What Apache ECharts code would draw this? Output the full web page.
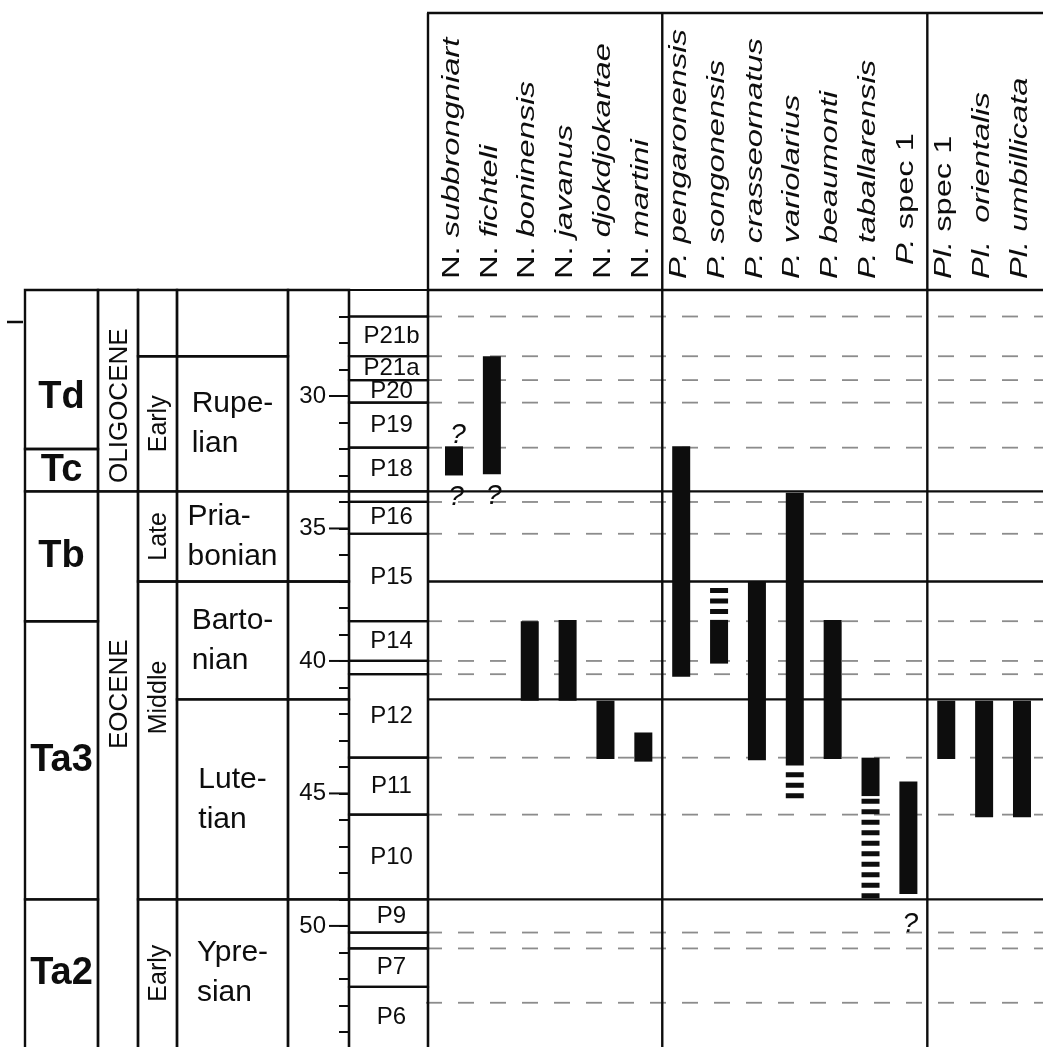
<!DOCTYPE html>
<html>
<head>
<meta charset="utf-8">
<script src="https://cdn.jsdelivr.net/npm/echarts@6/dist/echarts.min.js"></script>
<style>
html,body{margin:0;padding:0;background:#fff;}
#c{width:1043px;height:1047px;}
</style>
</head>
<body>
<div id="c"></div>
<script>
// ================= DATA =================
const AGE_MIN = 26, AGE_MAX = 54.57;        // Ma, top / bottom of the visible age scale
const ageTickLabels = [30, 35, 40, 45, 50];

// [label, fromAge, toAge]
const letterStages = [['Td', 26, 32.0], ['Tc', 32.0, 33.6], ['Tb', 33.6, 38.5], ['Ta3', 38.5, 49.0], ['Ta2', 49.0, 56]];
const epochs = [['OLIGOCENE', 26, 33.6], ['EOCENE', 33.6, 56]];
const subEpochs = [['', 26, 28.5], ['Early', 28.5, 33.6], ['Late', 33.6, 37.0], ['Middle', 37.0, 49.0], ['Early', 49.0, 56]];
const stages = [['', 26, 28.5], ['Rupe-\nlian', 28.5, 33.6], ['Pria-\nbonian', 33.6, 37.0], ['Barto-\nnian', 37.0, 41.45], ['Lute-\ntian', 41.45, 49.0], ['Ypre-\nsian', 49.0, 56]];
const ageColumnCells = [['', 26, 33.6], ['', 33.6, 37.0], ['', 37.0, 41.45], ['', 41.45, 49.0], ['', 49.0, 56]];
const zones = [['', 26, 27.0], ['P21b', 27.0, 28.5], ['P21a', 28.5, 29.4], ['P20', 29.4, 30.25], ['P19', 30.25, 31.95],
  ['P18', 31.95, 33.6], ['', 33.6, 34.0], ['P16', 34.0, 35.2], ['P15', 35.2, 38.5], ['P14', 38.5, 40.0], ['', 40.0, 40.5],
  ['P12', 40.5, 43.65], ['P11', 43.65, 45.8], ['P10', 45.8, 49.0], ['P9', 49.0, 50.25], ['', 50.25, 50.85],
  ['P7', 50.85, 52.3], ['P6', 52.3, 56]];
const guideLines = [27.0, 28.5, 29.4, 30.25, 31.95, 34.0, 35.2, 38.5, 40.0, 40.5, 43.65, 45.8, 50.25, 50.85, 52.9];
const boundaryLines = [33.6, 37.0, 41.45, 49.0];

const speciesNames = ['N. subbrongniart', 'N. fichteli', 'N. boninensis', 'N. javanus', 'N. djokdjokartae', 'N. martini',
  'P. pengaronensis', 'P. songonensis', 'P. crasseornatus', 'P. variolarius', 'P. beaumonti', 'P. taballarensis', 'P. spec 1',
  'Pl. spec 1', 'Pl.  orientalis', 'Pl. umbillicata'];
const speciesGroup = [0, 0, 0, 0, 0, 0, 1, 1, 1, 1, 1, 1, 1, 2, 2, 2];
const rangeSolid = [[31.9, 33.0], [28.5, 32.95], [38.5, 41.5], [38.45, 41.5], [41.5, 43.7], [42.7, 43.8],
  [31.9, 40.6], [38.45, 40.1], [37.0, 43.75], [33.65, 43.95], [38.45, 43.7], [43.65, 45.1], [44.55, 48.8],
  [41.5, 43.7], [41.5, 45.9], [41.5, 45.9]];
const rangeDashed = [null, null, null, null, null, null,
  null, [37.25, 38.25], null, [44.2, 45.2], null, [45.2, 49.0], null,
  null, null, null];
const queryAbove = ['N. subbrongniart'];
const queryBelow = ['N. subbrongniart', 'N. fichteli', 'P. spec 1'];

// ================= LAYOUT / STYLE =================
const L = {
  top: 290, bottom: 0,
  tableLeft: 25, zoneLeft: 349, speciesLeft: 428,
  colEdges: [0, 73, 113, 152, 263, 324],
  headerHeight: 277,
  speciesPad: [0.687, 0.555],
  barWidth: 18,
  labelGap: 11, labelDx: -2, labelStretch: 1.36, labelSize: 24
};
const labelShift = { 'Td': 28, 'OLIGOCENE': 15, 'EOCENE': -75, 'Middle': -43 };
const labelLift = { 'P. spec 1': 14 };
const queryGapBelow = { 'P. spec 1': 8 };
const uprightParts = ['N.', 'spec 1'];
const FONT = '"Liberation Sans", Arial, Helvetica, sans-serif';
const INK = '#0d0d0d';
const GUIDE = '#8c8c8c';

const measureCtx = document.createElement('canvas').getContext('2d');
function textWidth(t, size) { measureCtx.font = size + 'px ' + FONT; return measureCtx.measureText(t).width; }

const tableCells = [];
[letterStages, epochs, subEpochs, stages, ageColumnCells].forEach((arr, col) => arr.forEach(d => tableCells.push([col, d[1], d[2], d[0]])));

function renderTable(params, api) {
  const c = tableCells[params.dataIndex];
  const col = c[0];
  const a = api.coord([L.colEdges[col], c[1]]);
  const b = api.coord([L.colEdges[col + 1], c[2]]);
  const children = [{ type: 'rect', shape: { x: a[0], y: a[1], width: b[0] - a[0], height: b[1] - a[1] },
    style: { fill: 'none', stroke: INK, lineWidth: 2.4 } }];
  const label = c[3];
  if (label) {
    const cx = (a[0] + b[0]) / 2;
    const cy = (a[1] + Math.min(b[1], api.getHeight())) / 2 + (labelShift[label] || 0);
    if (col === 0) {
      children.push({ type: 'text', x: cx, y: cy, style: { text: label, fontSize: 38, fontWeight: 'bold', fontFamily: FONT, fill: INK, align: 'center', verticalAlign: 'middle' } });
    } else if (col === 1 || col === 2) {
      children.push({ type: 'text', x: cx + 2, y: cy, rotation: Math.PI / 2, style: { text: label, fontSize: col === 1 ? 26 : 25, fontFamily: FONT, fill: INK, align: 'center', verticalAlign: 'middle' } });
    } else if (col === 3) {
      const w = Math.max.apply(null, label.split('\n').map(t => textWidth(t, 30)));
      children.push({ type: 'text', x: cx - w / 2, y: cy, style: { text: label, fontSize: 30, lineHeight: 40, fontFamily: FONT, fill: INK, align: 'left', verticalAlign: 'middle' } });
    }
  }
  return { type: 'group', children };
}

function renderZones(params, api) {
  const z = zones[params.dataIndex];
  const a = api.coord([0, z[1]]);
  const b = api.coord([1, z[2]]);
  const children = [{ type: 'rect', shape: { x: a[0], y: a[1], width: b[0] - a[0], height: b[1] - a[1] },
    style: { fill: 'none', stroke: INK, lineWidth: 2.2 } }];
  if (z[0]) {
    children.push({ type: 'text', x: (a[0] + b[0]) / 2 + 3, y: (a[1] + Math.min(b[1], api.getHeight())) / 2,
      style: { text: z[0], fontSize: 24, fontFamily: FONT, fill: INK, align: 'center', verticalAlign: 'middle' } });
  }
  return { type: 'group', children };
}

function renderMajorTicks(params, api) {
  const p = api.coord([0, api.value(1)]);
  return { type: 'line', shape: { x1: p[0] - 20, y1: p[1], x2: p[0], y2: p[1] }, style: { stroke: INK, lineWidth: 2 } };
}

function renderGuides(params, api) {
  const cs = params.coordSys;
  const y = api.coord([0, api.value(1)])[1];
  return { type: 'line', shape: { x1: cs.x - 2, y1: y, x2: cs.x + cs.width, y2: y },
    style: { stroke: GUIDE, lineWidth: 1.8, lineDash: [16, 16] } };
}

function renderBoundaries(params, api) {
  const cs = params.coordSys;
  const y = api.coord([0, api.value(1)])[1];
  return { type: 'line', shape: { x1: cs.x, y1: y, x2: cs.x + cs.width, y2: y }, style: { stroke: INK, lineWidth: 2.4 } };
}

function renderFrame(params, api) {
  const cs = params.coordSys;
  const yTop = cs.y - L.headerHeight;
  const yBot = api.getHeight();
  const lines = [
    [cs.x - 1, yTop, cs.x + cs.width, yTop],
    [cs.x, cs.y, cs.x + cs.width, cs.y],
    [cs.x, yTop, cs.x, yBot]
  ];
  for (let i = 1; i < speciesGroup.length; i++) {
    if (speciesGroup[i] !== speciesGroup[i - 1]) {
      const x = api.coord([i - 0.5, AGE_MIN])[0];
      lines.push([x, yTop, x, yBot]);
    }
  }
  return { type: 'group', children: lines.map(l => ({ type: 'line', shape: { x1: l[0], y1: l[1], x2: l[2], y2: l[3] }, style: { stroke: INK, lineWidth: 2.4 } })) };
}

function renderBars(params, api) {
  const i = params.dataIndex;
  const name = speciesNames[i];
  const x = api.coord([i, AGE_MIN])[0];
  const s = rangeSolid[i];
  const y0 = api.coord([i, s[0]])[1], y1 = api.coord([i, s[1]])[1];
  const w = L.barWidth;
  const children = [{ type: 'rect', shape: { x: x - w / 2, y: y0, width: w, height: y1 - y0 }, style: { fill: INK } }];
  let yEnd = y1;
  const d = rangeDashed[i];
  if (d) {
    const a = api.coord([i, d[0]])[1], b = api.coord([i, d[1]])[1];
    children.push({ type: 'line', shape: { x1: x, y1: a, x2: x, y2: b }, style: { stroke: INK, lineWidth: w, lineDash: [5, 5.5], lineCap: 'butt' } });
    if (b > yEnd) yEnd = b;
  }
  if (queryAbove.includes(name)) {
    children.push({ type: 'text', x: x + 4, y: y0 + 3, style: { text: '?', fontSize: 28, fontStyle: 'italic', fontFamily: FONT, fill: INK, align: 'center', verticalAlign: 'bottom' } });
  }
  if (queryBelow.includes(name)) {
    children.push({ type: 'text', x: x + 2, y: yEnd + 8 + (queryGapBelow[name] || 0), style: { text: '?', fontSize: 28, fontStyle: 'italic', fontFamily: FONT, fill: INK, align: 'center', verticalAlign: 'top' } });
  }
  return { type: 'group', children };
}

function renderHeader(params, api) {
  const i = params.dataIndex;
  const name = speciesNames[i];
  const m = name.match(/^(\S+)(\s+)(.*)$/);
  const gs = uprightParts.includes(m[1]) ? 'u' : 'i';
  const es = uprightParts.includes(m[3]) ? 'u' : 'i';
  const x = api.coord([i, AGE_MIN])[0] + L.labelDx;
  const y = params.coordSys.y - L.labelGap - (labelLift[name] || 0);
  const base = { fontSize: L.labelSize, fontFamily: FONT, fill: INK };
  return { type: 'text', x: x, y: y, rotation: Math.PI / 2, scaleX: L.labelStretch,
    style: Object.assign({ text: '{' + gs + '|' + m[1] + '}' + m[2] + '{' + es + '|' + m[3] + '}', align: 'left', verticalAlign: 'middle',
      rich: { u: Object.assign({ fontStyle: 'normal' }, base), i: Object.assign({ fontStyle: 'italic' }, base) } }, base) };
}

const chart = echarts.init(document.getElementById('c'), null, { renderer: 'canvas' });
const yHidden = idx => ({ gridIndex: idx, type: 'value', inverse: true, min: AGE_MIN, max: AGE_MAX, show: false });

chart.setOption({
  animation: false,
  backgroundColor: '#fff',
  grid: [
    { left: L.tableLeft, top: L.top, width: L.zoneLeft - L.tableLeft, bottom: L.bottom },
    { left: L.zoneLeft, top: L.top, width: L.speciesLeft - L.zoneLeft, bottom: L.bottom },
    { left: L.speciesLeft, top: L.top, right: 0, bottom: L.bottom }
  ],
  xAxis: [
    { gridIndex: 0, type: 'value', min: 0, max: L.colEdges[L.colEdges.length - 1], show: false },
    { gridIndex: 1, type: 'value', min: 0, max: 1, show: false },
    { gridIndex: 2, type: 'value', min: -L.speciesPad[0], max: speciesNames.length - 1 + L.speciesPad[1], show: false }
  ],
  yAxis: [
    yHidden(0),
    { gridIndex: 1, type: 'value', inverse: true, min: AGE_MIN, max: AGE_MAX, interval: 1,
      axisLine: { show: false }, splitLine: { show: false },
      axisTick: { show: true, length: 10, lineStyle: { color: INK, width: 2 } },
      axisLabel: { margin: 23, fontSize: 24, fontFamily: FONT, color: INK, showMaxLabel: false,
        formatter: v => ageTickLabels.includes(v) ? String(v) : '' } },
    yHidden(2)
  ],
  graphic: [
    { type: 'line', shape: { x1: 7, y1: 322, x2: 23, y2: 322 }, style: { stroke: INK, lineWidth: 2.5 } }
  ],
  series: [
    { type: 'custom', xAxisIndex: 0, yAxisIndex: 0, z: 3, renderItem: renderTable, data: tableCells.map(c => [c[0], c[1], c[2]]) },
    { type: 'custom', xAxisIndex: 1, yAxisIndex: 1, z: 3, renderItem: renderZones, data: zones.map(z => [0, z[1], z[2]]) },
    { type: 'custom', xAxisIndex: 1, yAxisIndex: 1, z: 3, renderItem: renderMajorTicks, data: ageTickLabels.map(v => [0, v]) },
    { type: 'custom', xAxisIndex: 2, yAxisIndex: 2, z: 1, renderItem: renderGuides, data: guideLines.map(v => [0, v]) },
    { type: 'custom', xAxisIndex: 2, yAxisIndex: 2, z: 2, renderItem: renderBoundaries, data: boundaryLines.map(v => [0, v]) },
    { type: 'custom', xAxisIndex: 2, yAxisIndex: 2, z: 3, renderItem: renderFrame, data: [[0, AGE_MIN]] },
    { type: 'custom', xAxisIndex: 2, yAxisIndex: 2, z: 4, renderItem: renderBars, data: speciesNames.map((n, i) => [i, rangeSolid[i][0], rangeSolid[i][1]]) },
    { type: 'custom', xAxisIndex: 2, yAxisIndex: 2, z: 4, renderItem: renderHeader, data: speciesNames.map((n, i) => [i, AGE_MIN]) }
  ]
});
</script>
</body>
</html>
